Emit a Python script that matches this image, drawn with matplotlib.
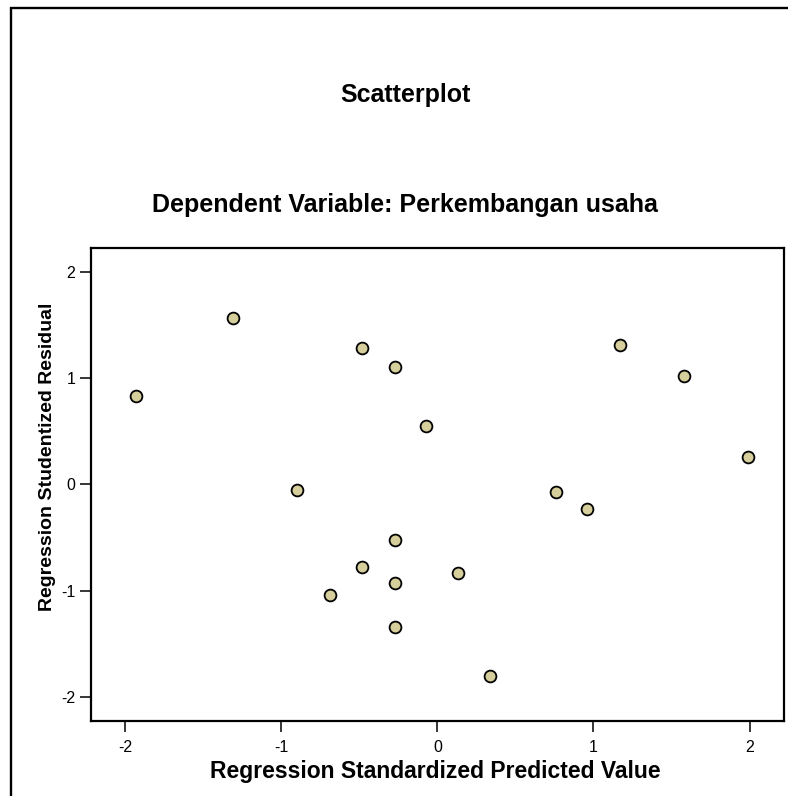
import matplotlib
matplotlib.use("Agg")
import matplotlib.pyplot as plt
from matplotlib.patches import Rectangle

plt.rcParams['font.family'] = ['Liberation Sans', 'DejaVu Sans']

predicted = [-1.93, -1.31, -0.90, -0.69, -0.48, -0.48, -0.27, -0.27, -0.27,
             -0.27, -0.07, 0.13, 0.34, 0.76, 0.96, 1.17, 1.58, 1.99]
residual = [0.83, 1.57, -0.05, -1.04, 1.28, -0.78, 1.11, -0.52, -0.93,
            -1.34, 0.55, -0.83, -1.80, -0.07, -0.23, 1.31, 1.02, 0.26]
ticks = [-2, -1, 0, 1, 2]

title_main = "Scatterplot"
title_sub = "Dependent Variable: Perkembangan usaha"
xlabel = "Regression Standardized Predicted Value"
ylabel = "Regression Studentized Residual"

W, H = 788, 796
fig = plt.figure(figsize=(W / 100, H / 100), dpi=100)
fig.patch.set_facecolor('white')

# outer frame (clipped on right and bottom as in reference)
frame = Rectangle((11 / W, -0.05), 1.1, 1 - 7.8 / H + 0.05,
                  transform=fig.transFigure, fill=False,
                  edgecolor='black', linewidth=1.7, clip_on=False)
fig.patches.append(frame)

left, right = 90.7 / W, 784 / W
bottom, top = 1 - 720.7 / H, 1 - 248 / H
ax = fig.add_axes([left, bottom, right - left, top - bottom])

ax.scatter(predicted, residual, s=72, facecolor='#d6cf9b',
           edgecolor='black', linewidth=1.3, zorder=3)

ax.set_xlim(-2.22, 2.22)
ax.set_ylim(-2.225, 2.226)
ax.set_xticks(ticks)
ax.set_yticks(ticks)
ax.set_xticklabels([str(t) for t in ticks])
ax.set_yticklabels([str(t) for t in ticks])

for sp in ax.spines.values():
    sp.set_linewidth(1.6)
ax.tick_params(axis='both', direction='out', length=8, width=1.1,
               labelsize=11.5, colors='black')
ax.tick_params(axis='x', pad=6)
ax.tick_params(axis='y', pad=3)

ax.set_xlabel(xlabel, fontsize=16.5, fontweight='bold')
ax.xaxis.set_label_coords(0.497, -0.083)
ax.set_ylabel(ylabel, fontsize=14, fontweight='bold')
ax.yaxis.set_label_coords(-0.050, 0.558)

fig.text(405 / W, 1 - 101.7 / H, title_main, ha='center', va='baseline',
         fontsize=18, fontweight='bold')
fig.text(405 / W, 1 - 211.7 / H, title_sub, ha='center', va='baseline',
         fontsize=18, fontweight='bold')

fig.savefig('out.png', dpi=100)
